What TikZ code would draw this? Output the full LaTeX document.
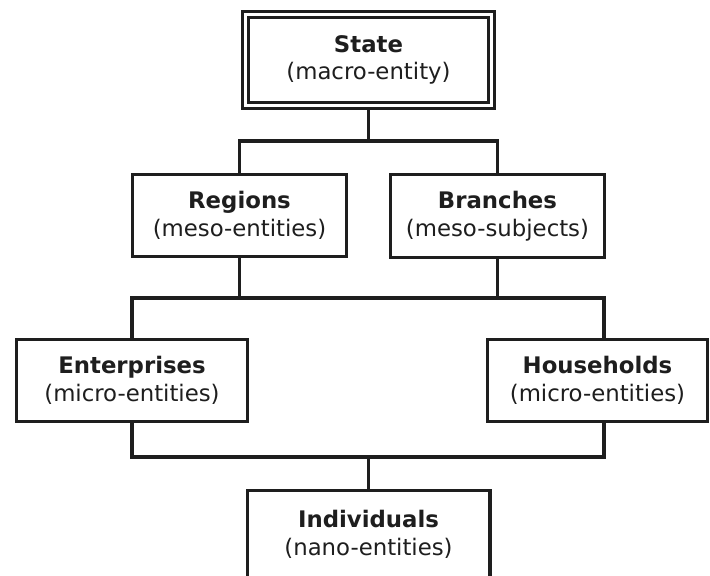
\documentclass[tikz,border=0pt]{standalone}
\usepackage{fontspec}
\setmainfont{DejaVu Sans}
\definecolor{ink}{HTML}{1E1E1E}
\begin{document}
\begin{tikzpicture}[x=1pt,y=-1pt,
  box/.style={draw=ink, line width=3.4pt, fill=white, rectangle, inner sep=0pt,
    align=center, text=ink, font=\fontsize{22.8}{27.5}\selectfont},
  dbox/.style={box, line width=2.8pt, double=white, double distance=3pt, outer sep=4.3pt},
  conn/.style={draw=ink, line width=3.4pt}]
\useasboundingbox (0,0) rectangle (710,576);
\clip (0,0) rectangle (710,576);
\fill[white] (0,0) rectangle (710,576);

\node[dbox, minimum width=246.4pt, minimum height=91.4pt] (state) at (368.5,60)
  {{\bfseries State}\\(macro-entity)};
\node[box, minimum width=213.6pt, minimum height=81.6pt] (regions) at (239.5,215.5)
  {{\bfseries Regions}\\(meso-entities)};
\node[box, minimum width=213.6pt, minimum height=82.6pt] (branches) at (497.5,216)
  {{\bfseries Branches}\\(meso-subjects)};
\node[box, minimum width=230.6pt, minimum height=81.6pt] (enterprises) at (132,380.5)
  {{\bfseries Enterprises}\\(micro-entities)};
\node[box, minimum width=219.6pt, minimum height=81.6pt] (households) at (597.5,380.5)
  {{\bfseries Households}\\(micro-entities)};
\node[box, minimum width=242.6pt, minimum height=88pt] (individuals) at (368.5,534.5)
  {{\bfseries Individuals}\\(nano-entities)};

\coordinate (b1) at (368.5,141);
\coordinate (b2) at (368.5,298);
\coordinate (b3) at (368.5,457);
\coordinate (h2) at (604,298);
\coordinate (h3) at (604,457);

\draw[conn] (state.south) -- (b1);
\draw[conn] (regions.north) |- (b1) -| (branches.north);
\draw[conn] (regions.south) -- (regions.south |- b2);
\draw[conn] (branches.south) -- (branches.south |- b2);
\draw[conn] (enterprises.north) |- (h2) -- (h2 |- households.north);
\draw[conn] (enterprises.south) |- (h3) -- (h3 |- households.south);
\draw[conn] (b3) -- (individuals.north);
\end{tikzpicture}
\end{document}
